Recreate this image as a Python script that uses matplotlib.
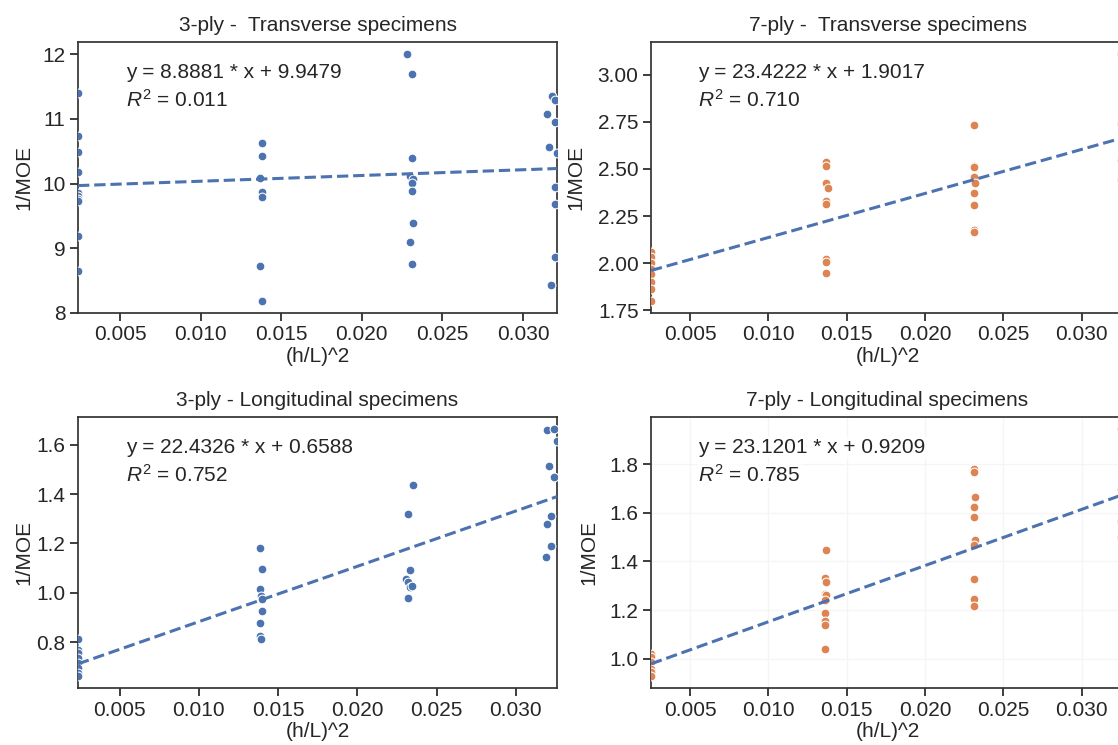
import numpy as np
import matplotlib.pyplot as plt
from matplotlib.ticker import MultipleLocator

plt.rcParams['font.family'] = ['Liberation Sans', 'DejaVu Sans']
plt.rcParams['font.size'] = 15
plt.rcParams['mathtext.fontset'] = 'custom'
plt.rcParams['mathtext.rm'] = 'Liberation Sans'
plt.rcParams['mathtext.it'] = 'Liberation Sans:italic'
plt.rcParams['text.color'] = '#262626'
plt.rcParams['axes.labelcolor'] = '#262626'
plt.rcParams['xtick.color'] = '#262626'
plt.rcParams['ytick.color'] = '#262626'

BLUE = '#4C72B0'
ORANGE = '#DD8452'

# 3-ply transverse
x_3t = [0.0024] * 10 + \
       [0.0138, 0.0138, 0.0137, 0.0138, 0.0138, 0.0137, 0.0138] + \
       [0.0228, 0.0231, 0.0231, 0.0230, 0.0232, 0.0231, 0.0231, 0.0232, 0.0230, 0.0231] + \
       [0.0318, 0.0320, 0.0315, 0.0320, 0.0316, 0.0321, 0.0320, 0.0320, 0.0320, 0.0317]
y_3t = [11.40, 10.74, 10.49, 10.18, 9.86, 9.81, 9.76, 9.73, 9.19, 8.65] + \
       [10.63, 10.42, 10.09, 9.87, 9.79, 8.72, 8.19] + \
       [12.00, 11.70, 10.39, 10.12, 10.07, 10.01, 9.88, 9.39, 9.10, 8.75] + \
       [11.35, 11.30, 11.08, 10.95, 10.56, 10.48, 9.95, 9.69, 8.86, 8.43]

# 7-ply transverse
x_7t = [0.0025] * 8 + \
       [0.0137, 0.0137, 0.0137, 0.0138, 0.0137, 0.0137, 0.0137, 0.0137, 0.0137] + \
       [0.0231, 0.0231, 0.0231, 0.0232, 0.0231, 0.0232, 0.0231, 0.0231, 0.0231, 0.0231] + \
       [0.0325, 0.0326, 0.0327, 0.0325, 0.0326, 0.0325, 0.0325, 0.0327]
y_7t = [2.06, 2.03, 2.00, 1.97, 1.94, 1.90, 1.86, 1.80] + \
       [2.536, 2.514, 2.428, 2.398, 2.330, 2.312, 2.024, 2.005, 1.946] + \
       [2.732, 2.518, 2.509, 2.459, 2.455, 2.423, 2.375, 2.309, 2.175, 2.166] + \
       [3.11, 2.95, 2.84, 2.74, 2.66, 2.55, 2.44, 2.38]

# 3-ply longitudinal
x_3l = [0.00237] * 8 + \
       [0.01384, 0.0140, 0.01384, 0.0139, 0.0140, 0.0140, 0.01384, 0.01384, 0.0139] + \
       [0.02352, 0.0232, 0.02335, 0.0231, 0.0232, 0.0233, 0.02345, 0.0232] + \
       [0.0320, 0.0324, 0.0326, 0.0321, 0.0324, 0.0322, 0.0320, 0.0322, 0.0319]
y_3l = [0.811, 0.770, 0.754, 0.736, 0.716, 0.696, 0.676, 0.664] + \
       [1.182, 1.098, 1.017, 0.986, 0.975, 0.925, 0.876, 0.824, 0.813] + \
       [1.438, 1.321, 1.091, 1.056, 1.044, 1.024, 1.027, 0.979] + \
       [1.661, 1.663, 1.616, 1.516, 1.468, 1.313, 1.279, 1.191, 1.144]

# 7-ply longitudinal
x_7l = [0.0025] * 6 + \
       [0.0137, 0.0136, 0.0137, 0.0136, 0.0137, 0.0136, 0.0136, 0.0136, 0.0136, 0.0136] + \
       [0.0231, 0.0231, 0.0232, 0.0231, 0.0231, 0.0232, 0.0231, 0.0231, 0.0231, 0.0231] + \
       [0.0325, 0.0326, 0.0327, 0.0325, 0.0326, 0.0325, 0.0325, 0.0327]
y_7l = [1.021, 1.005, 0.985, 0.959, 0.945, 0.930] + \
       [1.449, 1.334, 1.316, 1.268, 1.261, 1.240, 1.186, 1.155, 1.137, 1.041] + \
       [1.779, 1.769, 1.666, 1.625, 1.584, 1.488, 1.467, 1.326, 1.245, 1.217] + \
       [1.944, 1.85, 1.76, 1.70, 1.62, 1.566, 1.50, 1.44]

titles = ['3-ply -  Transverse specimens', '7-ply -  Transverse specimens',
          '3-ply - Longitudinal specimens', '7-ply - Longitudinal specimens']
slopes = [8.8881, 23.4222, 22.4326, 23.1201]
intercepts = [9.9479, 1.9017, 0.6588, 0.9209]
r2 = [0.011, 0.710, 0.752, 0.785]

fig = plt.figure(figsize=(11.18, 7.45), dpi=100)

# axes placed so the right column runs past the figure edge like the reference crop
positions = [[0.0698, 0.5799, 0.4284, 0.3638],
             [0.5823, 0.5799, 0.4231, 0.3638],
             [0.0698, 0.0765, 0.4284, 0.3638],
             [0.5823, 0.0765, 0.4231, 0.3638]]
xs = [x_3t, x_7t, x_3l, x_7l]
ys = [y_3t, y_7t, y_3l, y_7l]
colors = [BLUE, ORANGE, BLUE, ORANGE]
ysteps = [1, 0.25, 0.2, 0.2]
ylab_x = [-0.094, -0.138, -0.094, -0.112]

for i in range(4):
    ax = fig.add_axes(positions[i])
    x = np.array(xs[i])
    y = np.array(ys[i])
    if i == 3:
        ax.grid(True, color='#f5f5f5', linewidth=1)
        ax.set_axisbelow(True)
    ax.scatter(x, y, s=40, color=colors[i], edgecolor='white', linewidth=0.75, zorder=3)
    ax.set_xlim(x.min(), x.max())
    ax.margins(y=0.05)
    xl = np.array(ax.get_xlim())
    ax.plot(xl, slopes[i] * xl + intercepts[i], '--', color=BLUE, lw=2.2, zorder=4)
    ax.set_xlim(x.min(), x.max())

    ax.yaxis.set_major_locator(MultipleLocator(ysteps[i]))
    if i == 1:
        ax.yaxis.set_major_formatter(plt.FormatStrFormatter('%.2f'))
    elif i != 0:
        ax.yaxis.set_major_formatter(plt.FormatStrFormatter('%.1f'))
    ax.xaxis.set_major_formatter(plt.FormatStrFormatter('%.3f'))
    ax.set_xticks([0.005, 0.010, 0.015, 0.020, 0.025, 0.030])

    ax.tick_params(length=6, width=1.25, pad=3, labelsize=15)
    for sp in ax.spines.values():
        sp.set_color('#333333')
        sp.set_linewidth(1.25)

    ax.set_title(titles[i], fontsize=15, pad=8)
    ax.set_xlabel('(h/L)^2', fontsize=15, labelpad=2)
    ax.set_ylabel('1/MOE', fontsize=15)
    ax.yaxis.set_label_coords(ylab_x[i], 0.5)

    box = dict(facecolor='white', edgecolor='none', alpha=0.8, pad=1)
    ax.text(0.1, 0.887, f'y = {slopes[i]:.4f} * x + {intercepts[i]:.4f}',
            transform=ax.transAxes, va='center', ha='left', fontsize=15, bbox=box, zorder=5)
    ax.text(0.1, 0.785, f'$R^2$ = {r2[i]:.3f}',
            transform=ax.transAxes, va='center', ha='left', fontsize=15, bbox=box, zorder=5)

plt.savefig('out.png', dpi=100)
